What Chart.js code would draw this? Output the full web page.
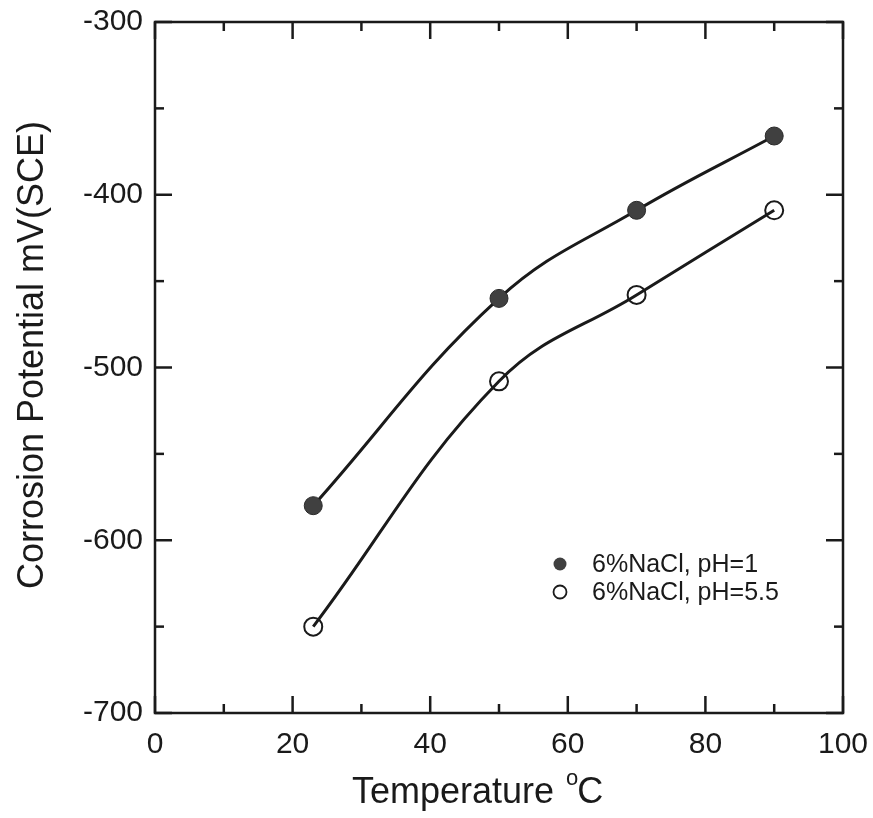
<!DOCTYPE html>
<html>
<head>
<meta charset="utf-8">
<script src="https://cdn.jsdelivr.net/npm/chart.js@4.4.0/dist/chart.umd.min.js"></script>
<style>
  html, body { margin: 0; padding: 0; background: #fff; }
  #wrap { width: 873px; height: 818px; }
</style>
</head>
<body>
<div id="wrap"><canvas id="corrosionChart" width="873" height="818"></canvas></div>
<script>
// temperatures (deg C)
const temps = [23, 50, 70, 90];
// corrosion potential, mV(SCE)
const potentialPH1 = [-580, -460, -409, -366];
const potentialPH55 = [-650, -508, -458, -409];
const seriesLabels = ["6%NaCl, pH=1", "6%NaCl, pH=5.5"];
const xMajorTicks = [0, 20, 40, 60, 80, 100];
const xMinorTicks = [10, 30, 50, 70, 90];
const yMajorTicks = [-700, -600, -500, -400, -300];
const yMinorTicks = [-650, -550, -450, -350];

const FONT = "'Liberation Sans', Arial, sans-serif";
const INK = "#1a1a1a";

// box, inward ticks, titles and legend
const framePlugin = {
  id: "frame",
  afterDatasetsDraw(chart) {
    const { ctx, chartArea: a, scales } = chart;
    const xs = scales.x, ys = scales.y;
    ctx.save();
    ctx.strokeStyle = INK;
    ctx.lineWidth = 2.5;
    ctx.strokeRect(a.left, a.top, a.right - a.left, a.bottom - a.top);

    const tick = (x1, y1, x2, y2) => {
      ctx.beginPath();
      ctx.moveTo(x1, y1);
      ctx.lineTo(x2, y2);
      ctx.stroke();
    };
    xMajorTicks.forEach((v) => {
      const px = xs.getPixelForValue(v);
      tick(px, a.bottom, px, a.bottom - 17);
      tick(px, a.top, px, a.top + 17);
    });
    xMinorTicks.forEach((v) => {
      const px = xs.getPixelForValue(v);
      tick(px, a.bottom, px, a.bottom - 9);
      tick(px, a.top, px, a.top + 9);
    });
    yMajorTicks.forEach((v) => {
      const py = ys.getPixelForValue(v);
      tick(a.left, py, a.left + 17, py);
      tick(a.right, py, a.right - 17, py);
    });
    yMinorTicks.forEach((v) => {
      const py = ys.getPixelForValue(v);
      tick(a.left, py, a.left + 9, py);
      tick(a.right, py, a.right - 9, py);
    });

    // y title
    ctx.fillStyle = INK;
    ctx.font = "36px " + FONT;
    ctx.textAlign = "center";
    ctx.textBaseline = "middle";
    ctx.save();
    ctx.translate(33, 355);
    ctx.rotate(-Math.PI / 2);
    ctx.fillText("Corrosion Potential mV(SCE)", 0, 0);
    ctx.restore();

    // x title with superscript "o"
    ctx.textAlign = "left";
    ctx.textBaseline = "alphabetic";
    const main = "Temperature";
    const start = 352;
    const w1 = ctx.measureText(main).width;
    ctx.fillText(main, start, 803);
    ctx.font = "22px " + FONT;
    const oX = start + w1 + 12;
    ctx.fillText("o", oX, 785);
    const wo = ctx.measureText("o").width;
    ctx.font = "36px " + FONT;
    ctx.fillText("C", oX + wo - 1, 803);

    // legend
    const rows = [
      { y: 564, filled: true },
      { y: 592, filled: false },
    ];
    ctx.font = "25px " + FONT;
    ctx.textBaseline = "middle";
    rows.forEach((r, i) => {
      ctx.beginPath();
      ctx.arc(560, r.y, 6.5, 0, Math.PI * 2);
      if (r.filled) {
        ctx.fillStyle = "#404040";
        ctx.fill();
      } else {
        ctx.fillStyle = "#fff";
        ctx.fill();
        ctx.lineWidth = 1.8;
        ctx.strokeStyle = INK;
        ctx.stroke();
      }
      ctx.fillStyle = INK;
      ctx.fillText(seriesLabels[i], 592, r.y + 1);
    });
    ctx.restore();
  },
};

const toPoints = (ys) => temps.map((t, i) => ({ x: t, y: ys[i] }));

new Chart(document.getElementById("corrosionChart").getContext("2d"), {
  type: "line",
  data: {
    datasets: [
      {
        label: seriesLabels[0],
        data: toPoints(potentialPH1),
        borderColor: INK,
        borderWidth: 3,
        tension: 0.4,
        pointRadius: 9,
        pointBackgroundColor: "#404040",
        pointBorderColor: "#2a2a2a",
        pointBorderWidth: 1,
      },
      {
        label: seriesLabels[1],
        data: toPoints(potentialPH55),
        borderColor: INK,
        borderWidth: 3,
        tension: 0.4,
        pointRadius: 9,
        pointBackgroundColor: "rgba(255,255,255,0)",
        pointBorderColor: INK,
        pointBorderWidth: 2,
      },
    ],
  },
  options: {
    responsive: false,
    animation: false,
    layout: { padding: { top: 22, right: 30, left: 0, bottom: 0 } },
    plugins: { legend: { display: false }, tooltip: { enabled: false } },
    scales: {
      x: {
        type: "linear",
        min: 0,
        max: 100,
        ticks: { stepSize: 20, color: INK, font: { family: FONT, size: 30 }, padding: 14 },
        grid: { display: false, drawTicks: false },
        border: { display: false },
        afterFit: (s) => {
          s.height = 818 - 713;
          s.paddingLeft = 0;
          s.paddingRight = 0;
        },
      },
      y: {
        type: "linear",
        min: -700,
        max: -300,
        ticks: { stepSize: 100, color: INK, font: { family: FONT, size: 30 }, padding: 12 },
        grid: { display: false, drawTicks: false },
        border: { display: false },
        afterFit: (s) => {
          s.width = 155;
          s.paddingTop = 0;
          s.paddingBottom = 0;
        },
      },
    },
  },
  plugins: [framePlugin],
});
</script>
</body>
</html>
